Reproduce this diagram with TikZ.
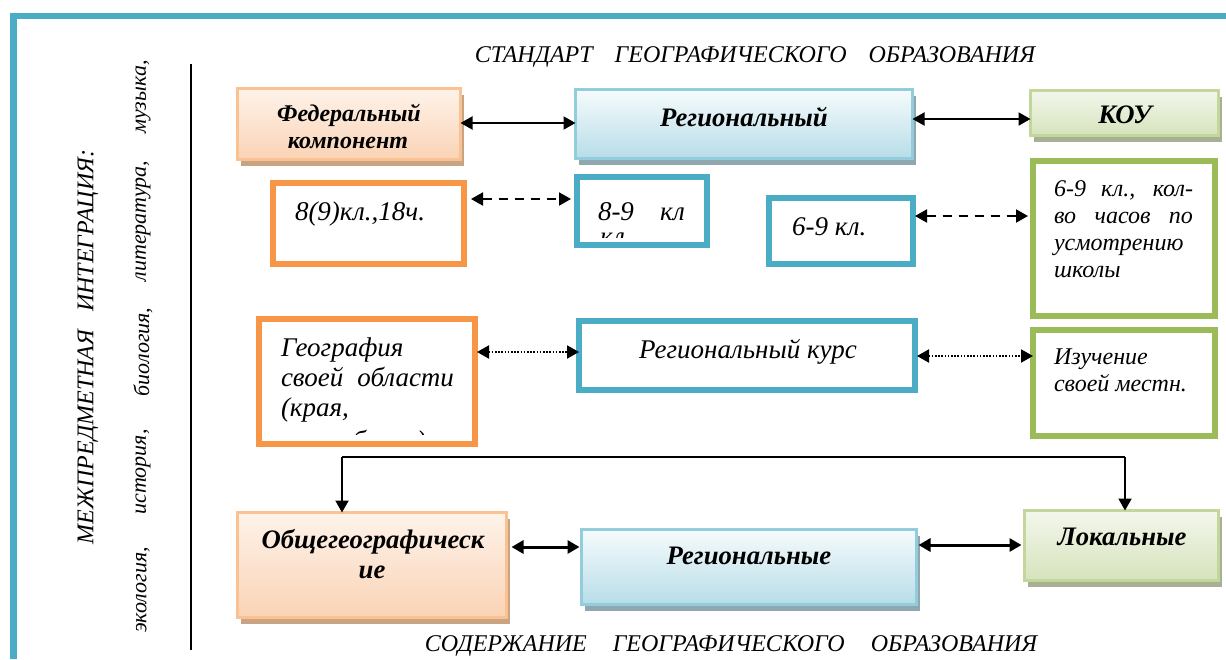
\documentclass[tikz,border=0pt]{standalone}
\usepackage{fontspec}
\setmainfont{Liberation Serif}
\usetikzlibrary{arrows.meta,shadows}

\definecolor{tealline}{HTML}{4BACC6}
\definecolor{orangeline}{HTML}{F79646}
\definecolor{greenline}{HTML}{9BBB59}
\definecolor{fedtop}{HTML}{FEF3EA}
\definecolor{fedbot}{HTML}{FAD3B5}
\definecolor{fededge}{HTML}{FAC292}
\definecolor{fedshade}{HTML}{C9A482}
\definecolor{regtop}{HTML}{F6FBFC}
\definecolor{regbot}{HTML}{B7DDE8}
\definecolor{regedge}{HTML}{93CDDD}
\definecolor{regshade}{HTML}{8FA7AE}
\definecolor{koutop}{HTML}{F3F7EC}
\definecolor{koubot}{HTML}{D6E3BC}
\definecolor{kouedge}{HTML}{C3D69B}
\definecolor{koushade}{HTML}{A7B093}

\tikzset{
  every node/.style={inner sep=0pt, outer sep=0pt},
  fillbox/.style={line width=3pt, shape=rectangle},
  fedbox/.style={fillbox, draw=fededge, top color=fedtop, bottom color=fedbot,
    drop shadow={shadow xshift=3.5pt, shadow yshift=-6pt, fill=fedshade, opacity=1}},
  regbox/.style={fillbox, draw=regedge, top color=regtop, bottom color=regbot,
    drop shadow={shadow xshift=3.5pt, shadow yshift=-6pt, fill=regshade, opacity=1}},
  koubox/.style={fillbox, draw=kouedge, top color=koutop, bottom color=koubot,
    drop shadow={shadow xshift=3.5pt, shadow yshift=-6pt, fill=koushade, opacity=1}},
  framebox/.style={line width=6pt, fill=white, shape=rectangle},
  obox/.style={framebox, draw=orangeline},
  tbox/.style={framebox, draw=tealline},
  gbox/.style={framebox, draw=greenline},
  headtext/.style={font=\fontsize{26.7}{30}\selectfont\bfseries\itshape, anchor=base},
  fedtext/.style={font=\fontsize{24}{27}\selectfont\bfseries\itshape, anchor=base},
  bodytext/.style={font=\fontsize{27}{30}\selectfont\itshape, anchor=base west},
  smalltext/.style={font=\fontsize{24}{27}\selectfont\itshape, anchor=base west},
  titletext/.style={font=\fontsize{24}{28}\selectfont\itshape, anchor=base},
  sidetext/.style={font=\fontsize{22}{24}\selectfont\itshape, rotate=90},
  link/.style={line width=2pt, {Triangle[length=12pt,width=13pt]}-{Triangle[length=12pt,width=13pt]}},
  boldlink/.style={line width=3pt, {Triangle[length=12pt,width=13pt]}-{Triangle[length=12pt,width=13pt]}},
  dashlink/.style={link, dash pattern=on 9pt off 7pt},
  dotlink/.style={link, dash pattern=on 1.6pt off 1.6pt},
  droparrow/.style={line width=2pt, -{Triangle[length=12pt,width=13pt]}},
}

\begin{document}
\begin{tikzpicture}[x=1pt,y=-1pt]
\useasboundingbox (0,0) rectangle (1226,659);
\fill[white] (0,0) rectangle (1226,659);

% page frame (top and left edges)
\fill[tealline] (10,12.5) rectangle (1226,19);
\fill[tealline] (10,12.5) rectangle (16.5,659);

% divider between the side caption and the scheme
\draw[line width=2pt] (191,64) -- (191,650);

% side captions
\node[font=\fontsize{24}{28}\selectfont\itshape, rotate=90] (integr) at (88,347)
  {МЕЖПРЕДМЕТНАЯ\hspace{12pt} ИНТЕГРАЦИЯ:};
\node[sidetext] (s1) at (143,590) {экология,};
\node[sidetext] (s2) at (143,472) {история,};
\node[sidetext] (s3) at (143,352) {биология,};
\node[sidetext] (s4) at (143,221) {литература,};
\node[sidetext] (s5) at (143,97) {музыка,};

% titles
\node[titletext] (top) at (755,62)
  {СТАНДАРТ\hspace{16pt} ГЕОГРАФИЧЕСКОГО\hspace{16pt} ОБРАЗОВАНИЯ};
\node[titletext] (bottom) at (731,651)
  {СОДЕРЖАНИЕ\hspace{20pt} ГЕОГРАФИЧЕСКОГО\hspace{20pt} ОБРАЗОВАНИЯ};

% standard components
\node[fedbox, minimum width=223pt, minimum height=71pt] (fed) at (349,124) {};
\node[fedtext] (fed1) at (349,121) {Федеральный};
\node[fedtext] (fed2) at (348,148) {компонент};
\node[regbox, minimum width=337pt, minimum height=69pt] (reg) at (744,124) {};
\node[headtext] (regt) at (744,126) {Региональный};
\node[koubox, minimum width=188pt, minimum height=45pt] (kou) at (1124.5,113) {};
\node[headtext] (kout) at (1125,123) {КОУ};

% hours
\node[obox, minimum width=191pt, minimum height=81pt] (h1) at (368.5,223.5) {};
\node[bodytext] (h1t) at (295,220) {8(9)кл.,18ч.};
\node[tbox, minimum width=130pt, minimum height=68pt] (h2) at (642,211) {};
\node[bodytext] (h2t) at (598,220) {\makebox[87pt][s]{8-9 кл}};
\begin{scope}
  \clip (580,180) rectangle (704,237);
  \node[bodytext] (h2u) at (600,245) {кл};
\end{scope}
\node[tbox, minimum width=144pt, minimum height=66pt] (h3) at (841,231) {};
\node[bodytext] (h3t) at (792,235) {6-9 кл.};
\node[gbox, minimum width=182pt, minimum height=155pt] (h4) at (1124,238.5) {};
\node[smalltext] (h4a) at (1054,196) {\makebox[139pt][s]{6-9 кл., кол-}};
\node[smalltext] (h4b) at (1054,223) {\makebox[139pt][s]{во часов по}};
\node[smalltext] (h4c) at (1054,250) {усмотрению};
\node[smalltext] (h4d) at (1054,277) {школы};

% courses
\node[obox, minimum width=216pt, minimum height=125pt] (c1) at (367,381.5) {};
\node[bodytext] (c1a) at (281,356) {География};
\node[bodytext] (c1b) at (281,386) {\makebox[173pt][s]{своей области}};
\node[bodytext] (c1c) at (281,416) {(края,};
\begin{scope}
  \clip (262,322) rectangle (472,434);
  \node[bodytext] (c1d) at (290,449) {республики)};
\end{scope}
\node[tbox, minimum width=336pt, minimum height=69pt] (c2) at (747,355.5) {};
\node[bodytext, anchor=base] (c2t) at (748,358) {Региональный курс};
\node[gbox, minimum width=182pt, minimum height=106pt] (c3) at (1124,383) {};
\node[smalltext] (c3a) at (1054,364) {Изучение};
\node[smalltext] (c3b) at (1054,391) {своей местн.};

% content components
\node[fedbox, minimum width=269pt, minimum height=105pt] (obs) at (372,565) {};
\node[headtext] (obs1) at (373,548) {Общегеографическ};
\node[headtext] (obs2) at (372,578) {ие};
\node[regbox, minimum width=335pt, minimum height=75pt] (regs) at (749,567) {};
\node[headtext] (regst) at (749,564) {Региональные};
\node[koubox, minimum width=194pt, minimum height=70pt] (lok) at (1121.5,545.5) {};
\node[headtext] (lokt) at (1122,545) {Локальные};

% connector rows
\coordinate (r1) at (0,123);
\coordinate (r1b) at (0,119);
\coordinate (r2) at (0,199);
\coordinate (r2b) at (0,216);
\coordinate (r3) at (0,352);
\coordinate (r3b) at (0,356);
\coordinate (r4) at (0,547);
\coordinate (r4b) at (0,545);
\coordinate (jl) at (342,457);
\coordinate (jr) at (1125,457);

\draw[link] (fed.east |- r1) -- (reg.west |- r1);
\draw[link] (reg.east |- r1b) -- (kou.west |- r1b);
\draw[dashlink, shorten <=7pt, shorten >=6pt] (h1.east |- r2) -- (h2.west |- r2);
\draw[dashlink, shorten <=2pt, shorten >=5pt] (h3.east |- r2b) -- (h4.west |- r2b);
\draw[dotlink, shorten <=2pt] (c1.east |- r3) -- (c2.west |- r3);
\draw[dotlink, shorten <=2pt] (c2.east |- r3b) -- (c3.west |- r3b);
\draw[boldlink, shorten <=5pt, shorten >=2pt] (obs.east |- r4) -- (regs.west |- r4);
\draw[boldlink, shorten <=2pt, shorten >=3pt] (regs.east |- r4b) -- (lok.west |- r4b);

\draw[line width=2pt] (jl) -- (jr);
\draw[droparrow] (jl) -- (jl |- obs.north);
\draw[droparrow] (jr) -- (jr |- lok.north);
\end{tikzpicture}
\end{document}
